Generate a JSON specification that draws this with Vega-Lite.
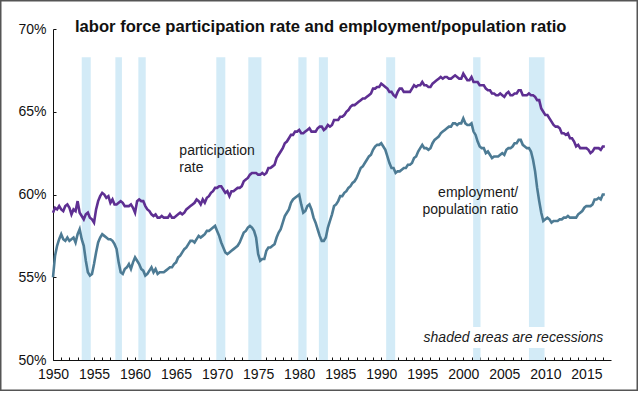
{
  "$schema": "https://vega.github.io/schema/vega-lite/v6.json",
  "width": 638,
  "height": 391,
  "autosize": {"type": "none"},
  "padding": 0,
  "background": "white",
  "config": {
    "view": {"stroke": "#555555", "strokeWidth": 3},
    "font": "Liberation Sans"
  },
  "title": {
    "text": "labor force participation rate and employment/population ratio",
    "anchor": "start",
    "frame": "group",
    "orient": "top",
    "offset": -49,
    "dx": 75,
    "baseline": "alphabetic",
    "fontSize": 16.6,
    "fontWeight": "bold",
    "font": "Liberation Sans",
    "color": "#111111"
  },
  "resolve": {"axis": {"x": "independent", "y": "independent"}},
  "data": {"values": [{}]},
  "datasets": {
    "rec": [
      {"start": 1953.5, "end": 1954.6},
      {"start": 1957.6, "end": 1958.4},
      {"start": 1960.4, "end": 1961.3},
      {"start": 1969.9, "end": 1971.0},
      {"start": 1973.8, "end": 1975.4},
      {"start": 1979.9, "end": 1980.9},
      {"start": 1982.4, "end": 1983.5},
      {"start": 1990.6, "end": 1991.7},
      {"start": 2001.2, "end": 2002.1},
      {"start": 2008.0, "end": 2009.9}
    ],
    "lf": [
      {"t":1950,"p":58.9,"e":55.0},{"t":1950.25,"p":59.2,"e":56.3},{"t":1950.5,"p":59.1,"e":56.9},{"t":1950.75,"p":59.3,"e":57.3},
      {"t":1951,"p":59.1,"e":57.6},{"t":1951.25,"p":59.0,"e":57.3},{"t":1951.5,"p":59.3,"e":57.2},{"t":1951.75,"p":59.4,"e":57.4},
      {"t":1952,"p":59.2,"e":57.2},{"t":1952.25,"p":58.8,"e":57.3},{"t":1952.5,"p":59.1,"e":57.4},{"t":1952.75,"p":59.0,"e":57.1},
      {"t":1953,"p":59.6,"e":57.6},{"t":1953.25,"p":58.9,"e":57.9},{"t":1953.5,"p":58.7,"e":57.3},{"t":1953.75,"p":58.5,"e":56.9},
      {"t":1954,"p":58.8,"e":56.0},{"t":1954.25,"p":58.9,"e":55.3},{"t":1954.5,"p":58.6,"e":55.1},{"t":1954.75,"p":58.5,"e":55.2},
      {"t":1955,"p":58.3,"e":55.8},{"t":1955.25,"p":59.1,"e":56.5},{"t":1955.5,"p":59.6,"e":57.1},{"t":1955.75,"p":59.9,"e":57.4},
      {"t":1956,"p":60.1,"e":57.6},{"t":1956.25,"p":60.0,"e":57.5},{"t":1956.5,"p":59.8,"e":57.4},{"t":1956.75,"p":59.9,"e":57.3},
      {"t":1957,"p":59.5,"e":57.3},{"t":1957.25,"p":59.7,"e":57.2},{"t":1957.5,"p":59.4,"e":57.0},{"t":1957.75,"p":59.4,"e":56.7},
      {"t":1958,"p":59.5,"e":55.9},{"t":1958.25,"p":59.6,"e":55.3},{"t":1958.5,"p":59.5,"e":55.2},{"t":1958.75,"p":59.3,"e":55.5},
      {"t":1959,"p":59.3,"e":55.6},{"t":1959.25,"p":59.3,"e":55.8},{"t":1959.5,"p":59.4,"e":55.5},{"t":1959.75,"p":59.2,"e":55.9},
      {"t":1960,"p":58.9,"e":56.2},{"t":1960.25,"p":59.6,"e":56.0},{"t":1960.5,"p":59.7,"e":55.8},{"t":1960.75,"p":59.6,"e":55.5},
      {"t":1961,"p":59.6,"e":55.4},{"t":1961.25,"p":59.3,"e":55.1},{"t":1961.5,"p":59.1,"e":55.2},{"t":1961.75,"p":59.0,"e":55.4},
      {"t":1962,"p":58.8,"e":55.6},{"t":1962.25,"p":58.7,"e":55.3},{"t":1962.5,"p":58.8,"e":55.5},{"t":1962.75,"p":58.6,"e":55.2},
      {"t":1963,"p":58.6,"e":55.3},{"t":1963.25,"p":58.7,"e":55.3},{"t":1963.5,"p":58.6,"e":55.3},{"t":1963.75,"p":58.6,"e":55.4},
      {"t":1964,"p":58.6,"e":55.5},{"t":1964.25,"p":58.8,"e":55.6},{"t":1964.5,"p":58.6,"e":55.6},{"t":1964.75,"p":58.6,"e":55.8},
      {"t":1965,"p":58.7,"e":55.9},{"t":1965.25,"p":58.8,"e":56.2},{"t":1965.5,"p":58.9,"e":56.3},{"t":1965.75,"p":58.8,"e":56.5},
      {"t":1966,"p":58.9,"e":56.7},{"t":1966.25,"p":59.1,"e":56.8},{"t":1966.5,"p":59.2,"e":57.0},{"t":1966.75,"p":59.3,"e":57.2},
      {"t":1967,"p":59.4,"e":57.2},{"t":1967.25,"p":59.5,"e":57.1},{"t":1967.5,"p":59.7,"e":57.3},{"t":1967.75,"p":59.6,"e":57.5},
      {"t":1968,"p":59.4,"e":57.4},{"t":1968.25,"p":59.7,"e":57.5},{"t":1968.5,"p":59.5,"e":57.6},{"t":1968.75,"p":59.8,"e":57.8},
      {"t":1969,"p":59.9,"e":57.8},{"t":1969.25,"p":60.1,"e":57.9},{"t":1969.5,"p":60.2,"e":58.0},{"t":1969.75,"p":60.4,"e":58.1},
      {"t":1970,"p":60.4,"e":57.8},{"t":1970.25,"p":60.5,"e":57.5},{"t":1970.5,"p":60.5,"e":57.1},{"t":1970.75,"p":60.3,"e":56.8},
      {"t":1971,"p":60.1,"e":56.5},{"t":1971.25,"p":60.2,"e":56.4},{"t":1971.5,"p":59.9,"e":56.5},{"t":1971.75,"p":60.2,"e":56.6},
      {"t":1972,"p":60.2,"e":56.7},{"t":1972.25,"p":60.3,"e":56.8},{"t":1972.5,"p":60.4,"e":56.9},{"t":1972.75,"p":60.4,"e":57.1},
      {"t":1973,"p":60.5,"e":57.4},{"t":1973.25,"p":60.8,"e":57.7},{"t":1973.5,"p":60.9,"e":57.8},{"t":1973.75,"p":61.0,"e":58.0},
      {"t":1974,"p":61.2,"e":58.1},{"t":1974.25,"p":61.3,"e":58.0},{"t":1974.5,"p":61.3,"e":57.8},{"t":1974.75,"p":61.3,"e":57.4},
      {"t":1975,"p":61.2,"e":56.4},{"t":1975.25,"p":61.2,"e":56.0},{"t":1975.5,"p":61.3,"e":56.1},{"t":1975.75,"p":61.2,"e":56.1},
      {"t":1976,"p":61.3,"e":56.6},{"t":1976.25,"p":61.6,"e":56.8},{"t":1976.5,"p":61.6,"e":56.8},{"t":1976.75,"p":61.7,"e":56.9},
      {"t":1977,"p":61.8,"e":57.0},{"t":1977.25,"p":62.2,"e":57.4},{"t":1977.5,"p":62.4,"e":57.7},{"t":1977.75,"p":62.6,"e":57.9},
      {"t":1978,"p":62.8,"e":58.3},{"t":1978.25,"p":63.1,"e":58.7},{"t":1978.5,"p":63.2,"e":58.9},{"t":1978.75,"p":63.4,"e":59.1},
      {"t":1979,"p":63.6,"e":59.5},{"t":1979.25,"p":63.6,"e":59.7},{"t":1979.5,"p":63.8,"e":59.8},{"t":1979.75,"p":63.8,"e":59.9},
      {"t":1980,"p":63.9,"e":60.0},{"t":1980.25,"p":63.7,"e":59.4},{"t":1980.5,"p":63.7,"e":58.9},{"t":1980.75,"p":63.8,"e":59.0},
      {"t":1981,"p":63.9,"e":59.3},{"t":1981.25,"p":64.0,"e":59.4},{"t":1981.5,"p":63.8,"e":59.1},{"t":1981.75,"p":63.8,"e":58.6},
      {"t":1982,"p":63.8,"e":58.3},{"t":1982.25,"p":64.0,"e":57.9},{"t":1982.5,"p":64.1,"e":57.5},{"t":1982.75,"p":64.1,"e":57.2},
      {"t":1983,"p":63.9,"e":57.2},{"t":1983.25,"p":64.0,"e":57.4},{"t":1983.5,"p":64.2,"e":58.0},{"t":1983.75,"p":64.1,"e":58.4},
      {"t":1984,"p":64.2,"e":58.8},{"t":1984.25,"p":64.5,"e":59.3},{"t":1984.5,"p":64.5,"e":59.4},{"t":1984.75,"p":64.5,"e":59.6},
      {"t":1985,"p":64.7,"e":59.9},{"t":1985.25,"p":64.7,"e":59.9},{"t":1985.5,"p":64.8,"e":60.1},{"t":1985.75,"p":65.0,"e":60.2},
      {"t":1986,"p":65.1,"e":60.4},{"t":1986.25,"p":65.3,"e":60.5},{"t":1986.5,"p":65.4,"e":60.7},{"t":1986.75,"p":65.4,"e":60.8},
      {"t":1987,"p":65.5,"e":61.0},{"t":1987.25,"p":65.6,"e":61.3},{"t":1987.5,"p":65.7,"e":61.6},{"t":1987.75,"p":65.8,"e":61.7},
      {"t":1988,"p":65.8,"e":61.9},{"t":1988.25,"p":65.9,"e":62.1},{"t":1988.5,"p":66.0,"e":62.3},{"t":1988.75,"p":66.1,"e":62.4},
      {"t":1989,"p":66.4,"e":62.7},{"t":1989.25,"p":66.4,"e":62.9},{"t":1989.5,"p":66.5,"e":63.0},{"t":1989.75,"p":66.5,"e":63.0},
      {"t":1990,"p":66.7,"e":63.1},{"t":1990.25,"p":66.6,"e":62.9},{"t":1990.5,"p":66.5,"e":62.7},{"t":1990.75,"p":66.4,"e":62.3},
      {"t":1991,"p":66.2,"e":61.9},{"t":1991.25,"p":66.2,"e":61.6},{"t":1991.5,"p":66.0,"e":61.6},{"t":1991.75,"p":65.9,"e":61.3},
      {"t":1992,"p":66.2,"e":61.4},{"t":1992.25,"p":66.4,"e":61.4},{"t":1992.5,"p":66.4,"e":61.5},{"t":1992.75,"p":66.2,"e":61.6},
      {"t":1993,"p":66.2,"e":61.6},{"t":1993.25,"p":66.2,"e":61.8},{"t":1993.5,"p":66.2,"e":61.8},{"t":1993.75,"p":66.4,"e":61.9},
      {"t":1994,"p":66.6,"e":62.2},{"t":1994.25,"p":66.5,"e":62.3},{"t":1994.5,"p":66.6,"e":62.6},{"t":1994.75,"p":66.6,"e":62.8},
      {"t":1995,"p":66.8,"e":63.0},{"t":1995.25,"p":66.6,"e":62.8},{"t":1995.5,"p":66.6,"e":62.8},{"t":1995.75,"p":66.5,"e":62.7},
      {"t":1996,"p":66.5,"e":62.8},{"t":1996.25,"p":66.7,"e":63.1},{"t":1996.5,"p":66.8,"e":63.3},{"t":1996.75,"p":66.9,"e":63.4},
      {"t":1997,"p":67.0,"e":63.5},{"t":1997.25,"p":67.1,"e":63.7},{"t":1997.5,"p":67.0,"e":63.8},{"t":1997.75,"p":67.1,"e":63.9},
      {"t":1998,"p":67.1,"e":64.0},{"t":1998.25,"p":67.0,"e":64.1},{"t":1998.5,"p":67.0,"e":64.1},{"t":1998.75,"p":67.1,"e":64.3},
      {"t":1999,"p":67.2,"e":64.3},{"t":1999.25,"p":67.1,"e":64.2},{"t":1999.5,"p":67.0,"e":64.3},{"t":1999.75,"p":67.0,"e":64.3},
      {"t":2000,"p":67.3,"e":64.6},{"t":2000.25,"p":67.1,"e":64.3},{"t":2000.5,"p":66.9,"e":64.2},{"t":2000.75,"p":66.9,"e":64.2},
      {"t":2001,"p":67.1,"e":64.3},{"t":2001.25,"p":66.8,"e":63.8},{"t":2001.5,"p":66.8,"e":63.6},{"t":2001.75,"p":66.8,"e":63.2},
      {"t":2002,"p":66.6,"e":62.9},{"t":2002.25,"p":66.6,"e":62.8},{"t":2002.5,"p":66.6,"e":62.8},{"t":2002.75,"p":66.4,"e":62.5},
      {"t":2003,"p":66.3,"e":62.6},{"t":2003.25,"p":66.3,"e":62.4},{"t":2003.5,"p":66.1,"e":62.2},{"t":2003.75,"p":66.1,"e":62.3},
      {"t":2004,"p":66.0,"e":62.3},{"t":2004.25,"p":66.0,"e":62.3},{"t":2004.5,"p":66.1,"e":62.4},{"t":2004.75,"p":66.0,"e":62.5},
      {"t":2005,"p":65.9,"e":62.4},{"t":2005.25,"p":66.1,"e":62.7},{"t":2005.5,"p":66.2,"e":62.8},{"t":2005.75,"p":66.0,"e":62.8},
      {"t":2006,"p":66.0,"e":62.9},{"t":2006.25,"p":66.1,"e":63.1},{"t":2006.5,"p":66.1,"e":63.1},{"t":2006.75,"p":66.3,"e":63.3},
      {"t":2007,"p":66.3,"e":63.3},{"t":2007.25,"p":66.0,"e":63.0},{"t":2007.5,"p":66.0,"e":62.9},{"t":2007.75,"p":66.0,"e":62.8},
      {"t":2008,"p":66.1,"e":62.8},{"t":2008.25,"p":66.0,"e":62.6},{"t":2008.5,"p":66.0,"e":62.1},{"t":2008.75,"p":65.9,"e":61.4},
      {"t":2009,"p":65.7,"e":60.4},{"t":2009.25,"p":65.7,"e":59.6},{"t":2009.5,"p":65.2,"e":58.9},{"t":2009.75,"p":65.0,"e":58.4},
      {"t":2010,"p":64.8,"e":58.5},{"t":2010.25,"p":64.8,"e":58.6},{"t":2010.5,"p":64.6,"e":58.5},{"t":2010.75,"p":64.4,"e":58.3},
      {"t":2011,"p":64.2,"e":58.4},{"t":2011.25,"p":64.1,"e":58.4},{"t":2011.5,"p":64.1,"e":58.4},{"t":2011.75,"p":64.0,"e":58.5},
      {"t":2012,"p":63.7,"e":58.5},{"t":2012.25,"p":63.7,"e":58.6},{"t":2012.5,"p":63.6,"e":58.6},{"t":2012.75,"p":63.7,"e":58.7},
      {"t":2013,"p":63.4,"e":58.6},{"t":2013.25,"p":63.4,"e":58.6},{"t":2013.5,"p":63.2,"e":58.6},{"t":2013.75,"p":62.9,"e":58.6},
      {"t":2014,"p":63.0,"e":58.8},{"t":2014.25,"p":62.8,"e":58.9},{"t":2014.5,"p":62.8,"e":59.0},{"t":2014.75,"p":62.8,"e":59.2},
      {"t":2015,"p":62.8,"e":59.3},{"t":2015.25,"p":62.7,"e":59.3},{"t":2015.5,"p":62.5,"e":59.3},{"t":2015.75,"p":62.6,"e":59.4},
      {"t":2016,"p":62.8,"e":59.7},{"t":2016.25,"p":62.8,"e":59.7},{"t":2016.5,"p":62.8,"e":59.8},{"t":2016.75,"p":62.7,"e":59.7},
      {"t":2017,"p":62.9,"e":60.0},{"t":2017.25,"p":62.9,"e":60.0}
    ]
  },
  "layer": [
    {
      "data": {"name": "rec"},
      "mark": {"type": "rect", "color": "#d3ebf7"},
      "encoding": {
        "x": {
          "field": "start", "type": "quantitative",
          "scale": {"domain": [1950, 2018], "range": [53, 611], "nice": false, "zero": false},
          "axis": {
            "title": null,
            "orient": "bottom",
            "offset": -31,
            "grid": false,
            "values": [1950,1955,1960,1965,1970,1975,1980,1985,1990,1995,2000,2005,2010,2015],
            "format": "d",
            "labelOverlap": false,
            "labelFlush": false,
            "tickSize": -3,
            "tickColor": "#111111",
            "domainColor": "#111111",
            "labelFontSize": 14,
            "labelColor": "#111111",
            "labelPadding": 10
          }
        },
        "x2": {"field": "end"},
        "y": {
          "datum": 50, "type": "quantitative",
          "scale": {"domain": [50, 70], "range": [360, 29], "nice": false, "zero": false},
          "axis": {
            "title": null,
            "offset": -53,
            "grid": false,
            "values": [50, 55, 60, 65, 70],
            "labelExpr": "datum.value + '%'",
            "tickSize": -3,
            "tickColor": "#111111",
            "domainColor": "#111111",
            "labelFontSize": 14,
            "labelColor": "#111111",
            "labelPadding": 10
          }
        },
        "y2": {"datum": 68.3}
      }
    },
    {
      "mark": {"type": "rect", "color": "white"},
      "encoding": {
        "x": {
          "datum": 1993, "type": "quantitative",
          "axis": {
            "title": null,
            "orient": "top",
            "offset": -360,
            "grid": false,
            "domain": false,
            "labels": false,
            "values": [1951,1952,1953,1954,1956,1957,1958,1959,1961,1962,1963,1964,1966,1967,1968,1969,1971,1972,1973,1974,1976,1977,1978,1979,1981,1982,1983,1984,1986,1987,1988,1989,1991,1992,1993,1994,1996,1997,1998,1999,2001,2002,2003,2004,2006,2007,2008,2009,2011,2012,2013,2014,2016,2017],
            "tickSize": 3,
            "tickColor": "#111111"
          }
        },
        "x2": {"datum": 2018},
        "y": {"datum": 50.73, "type": "quantitative", "axis": null},
        "y2": {"datum": 52.0}
      }
    },
    {
      "data": {"name": "lf"},
      "mark": {"type": "line", "color": "#5e2f92", "strokeWidth": 2.6},
      "encoding": {
        "x": {"field": "t", "type": "quantitative", "axis": null},
        "y": {"field": "p", "type": "quantitative", "axis": null}
      }
    },
    {
      "data": {"name": "lf"},
      "mark": {"type": "line", "color": "#4d7b94", "strokeWidth": 2.6},
      "encoding": {
        "x": {"field": "t", "type": "quantitative", "axis": null},
        "y": {"field": "e", "type": "quantitative", "axis": null}
      }
    },
    {
      "mark": {"type": "text", "text": ["participation", "rate"], "align": "left", "baseline": "alphabetic", "fontSize": 14, "lineHeight": 17, "color": "#1a1a1a"},
      "encoding": {
        "x": {"datum": 1965.4, "type": "quantitative", "axis": null},
        "y": {"datum": 62.39, "type": "quantitative", "axis": null}
      }
    },
    {
      "mark": {"type": "text", "text": ["employment/", "population ratio"], "align": "right", "baseline": "alphabetic", "fontSize": 14, "lineHeight": 17, "color": "#1a1a1a"},
      "encoding": {
        "x": {"datum": 2006.7, "type": "quantitative", "axis": null},
        "y": {"datum": 59.87, "type": "quantitative", "axis": null}
      }
    },
    {
      "mark": {"type": "text", "text": "shaded areas are recessions", "align": "right", "baseline": "alphabetic", "fontSize": 14, "fontStyle": "italic", "color": "#1a1a1a"},
      "encoding": {
        "x": {"datum": 2017.07, "type": "quantitative", "axis": null},
        "y": {"datum": 51.09, "type": "quantitative", "axis": null}
      }
    }
  ]
}
